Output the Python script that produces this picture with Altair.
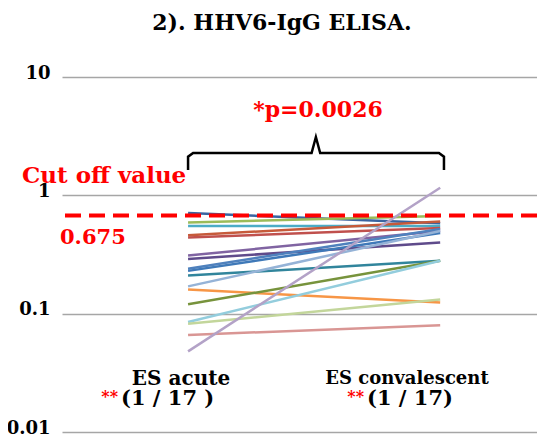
import altair as alt
import pandas as pd

# ---- data ----
patients = list(range(1, 18))
es_acute = [0.71, 0.59, 0.55, 0.46, 0.44, 0.31, 0.29, 0.24, 0.23, 0.21,
            0.17, 0.16, 0.12, 0.085, 0.082, 0.066, 0.048]
es_conv = [0.58, 0.67, 0.55, 0.60, 0.53, 0.50, 0.40, 0.52, 0.48, 0.28,
           0.50, 0.124, 0.28, 0.28, 0.132, 0.080, 1.16]
line_colors = ["#3A64A0", "#9BBB59", "#4BACC6", "#C65A3A", "#C0504D",
               "#8064A2", "#5F4B8B", "#4F81BD", "#3F79B8", "#31859C",
               "#95B3D7", "#F79646", "#77933C", "#93CDDD", "#C3D69B",
               "#D99694", "#B3A2C7"]
y_ticks = [0.01, 0.1, 1, 10]
cutoff = [0.675]
# brace above the two groups (x in group units, y in ELISA units)
brace_x = [0.0, 0.0, 0.02, 0.49, 0.507, 0.524, 0.995, 1.015, 1.015]
brace_y = [1.64, 2.12, 2.28, 2.28, 3.11, 2.28, 2.28, 2.12, 1.64]

rows = []
for pid, a, c in zip(patients, es_acute, es_conv):
    rows.append({"id": pid, "x": 0, "v": a})
    rows.append({"id": pid, "x": 1, "v": c})
df = pd.DataFrame(rows)

SERIF = "DejaVu Serif"
xscale = alt.Scale(domain=[-0.5, 1.384])
yscale = alt.Scale(type="log", domain=[0.01, 10])

lines = alt.Chart(df).mark_line(strokeWidth=2.5).encode(
    x=alt.X("x:Q", scale=xscale, axis=None),
    y=alt.Y("v:Q", scale=yscale,
            axis=alt.Axis(values=y_ticks, format="~g", title=None,
                          grid=True, gridColor="#A6A6A6", gridWidth=1.5,
                          domain=False, ticks=False, labelFont=SERIF,
                          labelFontWeight="bold", labelFontSize=18,
                          labelColor="black", labelPadding=12,
                          labelOffset=-4)),
    color=alt.Color("id:N", scale=alt.Scale(domain=patients, range=line_colors),
                    legend=None),
    detail="id:N",
)

cut = alt.Chart(pd.DataFrame({"y": cutoff})).mark_rule(
    color="#FF0000", strokeWidth=4, strokeDash=[16, 8]
).encode(y=alt.Y("y:Q", scale=yscale))

brace_df = pd.DataFrame({"bx": brace_x, "by": brace_y, "o": list(range(len(brace_x)))})
brace = alt.Chart(brace_df).mark_line(color="black", strokeWidth=2.5).encode(
    x=alt.X("bx:Q", scale=xscale), y=alt.Y("by:Q", scale=yscale), order="o:Q"
)


def txt(text, px, py, size, color="black", align="center"):
    return alt.Chart(pd.DataFrame({"t": [text]})).mark_text(
        font=SERIF, fontWeight="bold", fontSize=size, color=color,
        align=align, baseline="middle"
    ).encode(x=alt.value(px - 62), y=alt.value(py - 77), text="t:N")


annots = [
    txt("2).  HHV6-IgG ELISA.", 282, 23, 22),
    txt("*p=0.0026", 318, 110, 22, "#FF0000"),
    txt("Cut off value", 22, 176, 23, "#FF0000", "left"),
    txt("0.675", 60, 238, 21, "#FF0000", "left"),
    txt("ES acute", 181, 379, 20),
    txt("ES convalescent", 407, 379, 18),
    txt("**", 118, 397, 16, "#FF0000", "right"),
    txt("(1 / 17 )", 121, 399, 21, "black", "left"),
    txt("**", 364, 397, 16, "#FF0000", "right"),
    txt("(1 / 17)", 367, 399, 21, "black", "left"),
]

chart = alt.layer(lines, cut, brace, *annots).properties(
    width=475, height=355,
    autosize=alt.AutoSizeParams(type="none"),
    padding={"left": 54, "top": 69, "right": 0, "bottom": 8},
).configure_view(stroke=None)

chart.save("out.html", embed_options={"renderer": "svg", "actions": False})
